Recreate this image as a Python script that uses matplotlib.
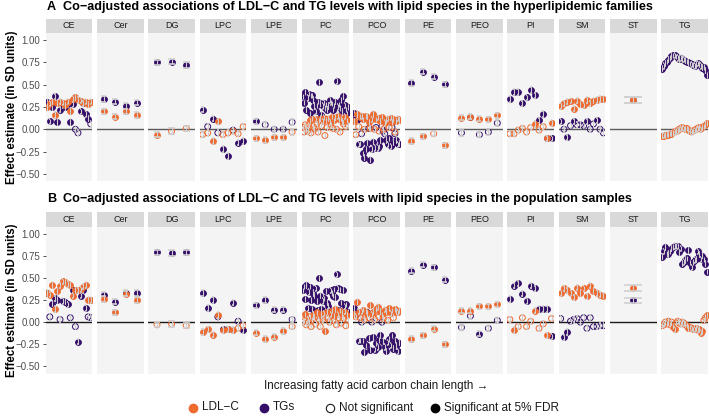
import matplotlib
matplotlib.use('Agg')
import matplotlib.pyplot as plt
import numpy as np

plt.rcParams['font.family'] = ['Liberation Sans', 'DejaVu Sans']

# lipid classes (facets), species ordered by increasing chain length inside each
FACETS = ['CE', 'Cer', 'DG', 'LPC', 'LPE', 'PC', 'PCO', 'PE', 'PEO', 'PI', 'SM', 'ST', 'TG']

# ---- panel A : hyperlipidemic families ----
LDL_A = {
    'CE': [0.25, 0.29, 0.31, 0.16, 0.29, 0.31, 0.30, 0.27, 0.31, 0.20, 0.34, 0.36, 0.33, 0.32, 0.29, 0.31, 0.28, 0.31],
    'Cer': [0.20, 0.14, 0.20, 0.16],
    'DG': [-0.06, -0.02, 0.01],
    'LPC': [-0.06, -0.04, -0.13, 0.09, -0.06, -0.04, -0.02, -0.05, 0.03],
    'LPE': [-0.10, -0.12, -0.09, -0.09, -0.03],
    'PC': [0.02, -0.03, 0.05, 0.00, -0.02, 0.04, 0.10, -0.04, 0.12, 0.03, 0.00, 0.11, 0.06, -0.03, 0.10, 0.12, 0.04, 0.09, 0.13, -0.07,
           0.11, 0.02, 0.12, 0.08, 0.05, 0.14, 0.01, 0.10, 0.13, 0.00, 0.15, 0.11, -0.03, 0.12, 0.09, 0.06, 0.14, 0.03, 0.10, 0.05],
    'PCO': [0.09, -0.06, 0.17, 0.03, 0.14, 0.15, 0.11, 0.00, 0.15, 0.14, 0.08, 0.01, 0.11, 0.17, 0.00, 0.11, 0.13, -0.02, 0.09, 0.14,
            0.00, 0.07, 0.10, 0.12, 0.02, 0.13, 0.08, 0.11, -0.03, 0.09, 0.12, 0.10],
    'PE': [-0.13, -0.08, -0.05, -0.18],
    'PEO': [0.13, 0.14, 0.12, 0.11, 0.155],
    'PI': [-0.05, -0.05, -0.01, 0.01, -0.03, 0.02, 0.06, -0.01, 0.03, -0.10, 0.07],
    'SM': [0.26, 0.29, 0.31, 0.32, 0.23, 0.32, 0.28, 0.27, 0.33, 0.29, 0.32, 0.33, 0.34, 0.34],
    'ST': [0.325],
    'TG': [-0.07, -0.07, -0.065, -0.06, -0.06, -0.05, -0.05, -0.04, -0.03, -0.02, -0.02, 0.00, 0.01, 0.02, 0.01,
           0.00, 0.01, -0.01, -0.02, -0.03, -0.02, -0.01, 0.00, 0.01, 0.02, 0.00, 0.02, 0.03, 0.05, 0.07],
}
TG_A = {
    'CE': [0.31, 0.09, 0.25, 0.37, 0.08, 0.22, 0.27, 0.25, 0.28, 0.08, 0.28, 0.00, -0.04, 0.20, 0.30, 0.17, 0.12, 0.06],
    'Cer': [0.34, 0.31, 0.26, 0.30],
    'DG': [0.75, 0.76, 0.72],
    'LPC': [0.22, 0.03, 0.12, -0.04, -0.22, -0.30, -0.01, -0.15, -0.13],
    'LPE': [0.09, 0.05, 0.00, 0.00, 0.08],
    'PC': [0.37, 0.30, 0.42, 0.22, 0.35, 0.40, 0.18, 0.38, 0.38, 0.33, 0.26, 0.20, 0.27, 0.31, 0.53, 0.29, 0.16, 0.26, 0.30, 0.24,
           0.28, 0.22, 0.26, 0.33, 0.30, 0.29, 0.22, 0.27, 0.31, 0.54, 0.25, 0.28, 0.24, 0.33, 0.20, 0.37, 0.27, 0.22, 0.18, 0.25],
    'PCO': [0.18, 0.13, 0.10, -0.17, -0.16, -0.05, -0.27, -0.32, -0.22, -0.15, 0.01, -0.34, -0.22, -0.14, -0.21, 0.02,
            -0.21, -0.19, -0.12, 0.03, -0.02, -0.05, -0.12, -0.17, -0.10, -0.19, 0.02, -0.15, -0.05, -0.12, -0.17, -0.16],
    'PE': [0.52, 0.645, 0.59, 0.505],
    'PEO': [-0.04, 0.14, -0.06, -0.03, 0.07],
    'PI': [0.34, 0.42, 0.42, 0.29, 0.36, 0.44, 0.38, 0.10, 0.17, -0.10, -0.10],
    'SM': [0.09, 0.00, -0.09, 0.04, 0.09, 0.05, 0.05, 0.04, 0.09, 0.00, 0.06, 0.10, 0.00, -0.04],
    'ST': [0.325],
    'TG': [0.68, 0.71, 0.74, 0.76, 0.78, 0.80, 0.82, 0.83, 0.83, 0.82, 0.80, 0.79, 0.80, 0.79, 0.78,
           0.77, 0.76, 0.75, 0.74, 0.73, 0.72, 0.71, 0.72, 0.74, 0.73, 0.71, 0.69, 0.70, 0.66, 0.61],
}
# indices of species NOT significant at 5% FDR
NS_LDL_A = {
    'DG': [1, 2], 'LPC': [0, 1, 4, 5, 6, 7, 8], 'LPE': [4], 'PE': [2],
    'PC': [0, 1, 2, 3, 4, 5, 7, 9, 10, 12, 13, 16, 19, 21, 24, 26, 29, 32, 35, 37, 39],
    'PCO': [1, 3, 7, 11, 14, 17, 20, 24, 28],
    'PI': [0, 1, 2, 3, 4, 5, 7, 8],
    'TG': list(range(7, 28)),
}
NS_TG_A = {
    'CE': [11, 12, 17], 'LPC': [1, 3, 6], 'LPE': [1, 2, 3, 4],
    'PCO': [5, 10, 15, 19, 20, 21, 26, 28],
    'PEO': [0, 2, 3, 4],
    'SM': [1, 3, 5, 6, 7, 9, 10, 12, 13],
}

# ---- panel B : population samples ----
LDL_B = {
    'CE': [0.33, 0.31, 0.42, 0.15, 0.35, 0.41, 0.46, 0.45, 0.43, 0.42, 0.30, 0.36, 0.36, 0.37, 0.40, 0.42, 0.25, 0.25],
    'Cer': [0.26, 0.11, 0.32, 0.25],
    'DG': [-0.03, -0.02, -0.04],
    'LPC': [-0.11, -0.08, -0.14, 0.08, -0.09, -0.08, -0.09, -0.07, -0.04],
    'LPE': [-0.12, -0.19, -0.165, -0.10, -0.05],
    'PC': [0.00, 0.02, 0.09, -0.03, 0.03, 0.00, 0.06, -0.05, 0.03, 0.08, 0.05, -0.02, 0.11, 0.04, 0.02, -0.05, 0.08, 0.03, 0.10, -0.10,
           0.06, 0.12, 0.04, 0.00, 0.09, 0.13, 0.02, 0.07, 0.15, -0.03, 0.09, 0.05, 0.13, -0.01, 0.10, 0.04, 0.12, -0.04, 0.08, 0.03],
    'PCO': [0.09, 0.06, 0.23, 0.12, 0.05, 0.12, 0.14, 0.03, 0.12, 0.10, 0.05, 0.19, 0.08, 0.12, 0.03, 0.15, 0.17, 0.06, 0.12, 0.09,
            0.04, 0.14, 0.12, 0.02, 0.16, 0.10, 0.13, 0.05, 0.15, 0.12, 0.11, 0.13],
    'PE': [-0.19, -0.15, -0.075, -0.25],
    'PEO': [0.13, 0.13, 0.18, 0.18, 0.20],
    'PI': [0.03, -0.09, -0.05, 0.05, -0.05, 0.01, 0.13, -0.07, -0.02, -0.15, 0.04],
    'SM': [0.33, 0.38, 0.36, 0.33, 0.28, 0.39, 0.33, 0.38, 0.29, 0.41, 0.35, 0.33, 0.31, 0.30],
    'ST': [0.385],
    'TG': [-0.04, -0.03, 0.00, -0.02, 0.01, -0.03, 0.00, -0.05, -0.08, -0.01, 0.01, 0.00, -0.02, 0.00, -0.01,
           -0.03, -0.04, -0.07, -0.06, -0.07, -0.08, -0.08, -0.07, -0.09, -0.08, -0.12, -0.10, 0.02, 0.05, 0.08],
}
TG_B = {
    'CE': [0.33, 0.06, 0.21, 0.27, 0.25, 0.03, 0.24, 0.23, 0.20, 0.05, 0.36, -0.05, -0.22, 0.30, 0.36, 0.16, 0.06, 0.05],
    'Cer': [0.31, 0.23, 0.33, 0.33],
    'DG': [0.79, 0.78, 0.79],
    'LPC': [0.33, 0.16, 0.25, 0.06, -0.08, -0.08, 0.22, 0.01, -0.09],
    'LPE': [0.19, 0.25, 0.14, 0.14, 0.03],
    'PC': [0.36, 0.40, 0.26, 0.42, 0.16, 0.34, 0.40, 0.25, 0.15, 0.33, 0.30, 0.38, 0.24, 0.14, 0.50, 0.30, 0.15, 0.24, 0.27, 0.13,
           0.35, 0.22, 0.18, 0.13, 0.36, 0.33, 0.30, 0.37, 0.28, 0.54, 0.38, 0.14, 0.37, 0.22, 0.10, 0.36, 0.18, 0.20, 0.11, 0.12],
    'PCO': [0.16, 0.09, 0.12, -0.21, -0.21, 0.00, -0.21, -0.34, -0.26, 0.12, -0.18, -0.31, 0.00, -0.17, -0.31, -0.24,
            -0.28, -0.20, -0.15, 0.00, -0.22, -0.28, -0.33, -0.23, -0.19, -0.26, -0.15, -0.30, -0.21, -0.27, -0.33, -0.23],
    'PE': [0.58, 0.65, 0.62, 0.48],
    'PEO': [-0.06, 0.07, -0.13, -0.07, 0.02],
    'PI': [0.26, 0.41, 0.44, 0.32, 0.24, 0.41, 0.38, 0.15, 0.15, 0.15, -0.16],
    'SM': [0.04, -0.17, -0.11, 0.01, 0.03, 0.04, 0.00, 0.05, -0.07, 0.05, -0.05, -0.05, -0.04, -0.04],
    'ST': [0.245],
    'TG': [0.74, 0.80, 0.85, 0.77, 0.77, 0.80, 0.83, 0.85, 0.86, 0.86, 0.86, 0.79, 0.83, 0.66, 0.68,
           0.70, 0.72, 0.81, 0.67, 0.62, 0.68, 0.70, 0.71, 0.80, 0.76, 0.71, 0.75, 0.71, 0.66, 0.57],
}
NS_LDL_B = {
    'DG': [0, 1, 2], 'LPC': [7, 8], 'LPE': [4],
    'PC': [0, 1, 3, 4, 5, 6, 7, 8, 10, 11, 13, 14, 15, 17, 20, 22, 23, 26, 29, 31, 33, 35, 37, 39],
    'PCO': [1, 4, 7, 10, 14, 17, 20, 23, 27],
    'PI': [0, 2, 3, 4, 5, 7, 8, 10],
    'TG': [0, 1, 2, 3, 4, 5, 6, 9, 10, 11, 12, 13, 14, 15, 16, 27, 28],
}
NS_TG_B = {
    'CE': [1, 5, 9, 11, 16, 17], 'LPC': [3, 7], 'LPE': [4],
    'PCO': [5, 12, 19],
    'PEO': [0, 1, 3, 4],
    'SM': [0, 3, 4, 5, 6, 7, 8, 9, 10, 11, 12, 13],
}

# 95% CI half-widths (most are about the same size, ST ones read from the caps)
CI_DEFAULT = 0.03
CI_ST = {'A': (0.034, 0.034), 'B': (0.038, 0.030)}

Y_TICKS = [-0.5, -0.25, 0.0, 0.25, 0.5, 0.75, 1.0]

TITLES = {
    'A': 'Co\u2212adjusted associations of LDL\u2212C and TG levels with lipid species in the hyperlipidemic families',
    'B': 'Co\u2212adjusted associations of LDL\u2212C and TG levels with lipid species in the population samples',
}

ORANGE = '#EE6A2F'
PURPLE = '#350E6A'
PANEL_BG = '#F4F4F4'
STRIP_BG = '#D9D9D9'
ERR_COL = '#D0D0D0'

W, H = 709, 416
fig = plt.figure(figsize=(W / 100, H / 100), dpi=100)


def rect(x0, y0, w, h):
    # pixel box (top-left origin) -> figure fraction
    return [x0 / W, 1 - (y0 + h) / H, w / W, h / H]


def draw_series(ax, vals, ns, color, ci, z):
    y = np.array(vals, dtype=float)
    x = np.arange(len(y))
    sig = np.ones(len(y), dtype=bool)
    sig[ns] = False
    ax.scatter(x[sig], y[sig], s=18, color=color, linewidths=0.6, zorder=z)
    ax.scatter(x[~sig], y[~sig], s=18, facecolors='none', edgecolors=color, linewidths=0.7, zorder=z)
    ax.vlines(x, y - ci, y + ci, color=ERR_COL, lw=0.8, zorder=z + 0.5)
    for yy in (y - ci, y + ci):
        ax.hlines(yy, x - 0.23, x + 0.23, color=ERR_COL, lw=1.2, zorder=z + 0.5)


rows = {
    'A': dict(ldl=LDL_A, tg=TG_A, ns_ldl=NS_LDL_A, ns_tg=NS_TG_A, strip=19, top=33, bot=181,
              title_y=7, zero='#5A5A5A'),
    'B': dict(ldl=LDL_B, tg=TG_B, ns_ldl=NS_LDL_B, ns_tg=NS_TG_B, strip=211.5, top=226.5, bot=373.5,
              title_y=199, zero='#1A1A1A'),
}

for key, r in rows.items():
    for i, fac in enumerate(FACETS):
        left = 45.7 + i * 51.3
        wid = 46.6
        ax = fig.add_axes(rect(left, r['top'], wid, r['bot'] - r['top']))
        ax.set_facecolor(PANEL_BG)
        for sp in ax.spines.values():
            sp.set_visible(False)
        n = len(r['ldl'][fac])
        ax.set_xlim(-0.6, n - 0.4)
        ax.set_ylim(-0.58, 1.08)
        ax.set_xticks([])
        ax.axhline(0, color=r['zero'], lw=1.0, zorder=2)
        if fac == 'ST':
            ci_l, ci_t = CI_ST[key]
        else:
            ci_l = ci_t = CI_DEFAULT
        draw_series(ax, r['tg'][fac], r['ns_tg'].get(fac, []), PURPLE, ci_t, 3)
        draw_series(ax, r['ldl'][fac], r['ns_ldl'].get(fac, []), ORANGE, ci_l, 4)
        if i == 0:
            ax.set_yticks(Y_TICKS)
            ax.set_yticklabels([f'{t:.2f}'.replace('-', '\u2212') for t in Y_TICKS])
            ax.tick_params(axis='y', length=2.5, width=0.6, color='#333333', labelsize=7,
                           labelcolor='#4D4D4D', pad=1.5)
        else:
            ax.set_yticks([])
        # facet strip
        sax = fig.add_axes(rect(left, r['strip'], wid, r['top'] - r['strip']))
        sax.set_facecolor(STRIP_BG)
        sax.set_xticks([])
        sax.set_yticks([])
        for sp in sax.spines.values():
            sp.set_visible(False)
        sax.text(0.5, 0.5, fac, ha='center', va='center', fontsize=6.5, color='#1A1A1A',
                 transform=sax.transAxes)

    fig.text(47 / W, 1 - r['title_y'] / H, key, fontsize=9.1, fontweight='bold', va='center', ha='left')
    fig.text(63 / W, 1 - r['title_y'] / H, TITLES[key], fontsize=9.1, fontweight='bold', va='center', ha='left')
    fig.text(12 / W, 1 - (r['top'] + r['bot']) / 2 / H, 'Effect estimate (in SD units)', rotation=90,
             fontsize=8.3, fontweight='bold', va='center', ha='center')

fig.text(376 / W, 1 - 385.5 / H, 'Increasing fatty acid carbon chain length \u2192', fontsize=8.4,
         ha='center', va='center', color='#1A1A1A')

# legend, drawn on a full-figure overlay in pixel coordinates
lax = fig.add_axes([0, 0, 1, 1])
lax.set_xlim(0, W)
lax.set_ylim(H, 0)
lax.axis('off')
legend_items = [
    (193, dict(color=ORANGE), 'LDL\u2212C'),
    (264, dict(color=PURPLE), 'TGs'),
    (330, dict(markerfacecolor='none', markeredgecolor='#1A1A1A', markeredgewidth=0.8), 'Not significant'),
    (435, dict(color='black'), 'Significant at 5% FDR'),
]
for x, style, label in legend_items:
    lax.plot([x], [407.5], marker='o', markersize=6, linestyle='none', **style)
    lax.text(x + 9, 407.5, label, fontsize=8.5, va='center', ha='left', color='#1A1A1A')

fig.savefig('out.png', dpi=100)
